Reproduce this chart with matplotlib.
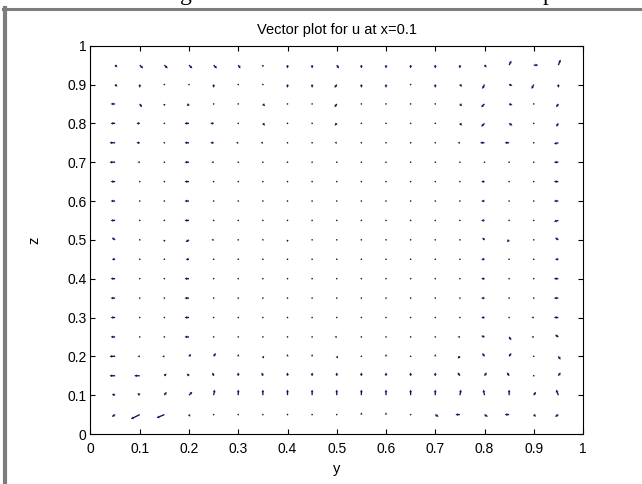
import matplotlib
matplotlib.use("Agg")
import matplotlib.pyplot as plt
from matplotlib.lines import Line2D
import numpy as np

# Grid positions (y across, z from top row to bottom row)
y_vals = [0.05, 0.10, 0.15, 0.20, 0.25, 0.30, 0.35, 0.40, 0.45, 0.50,
          0.55, 0.60, 0.65, 0.70, 0.75, 0.80, 0.85, 0.90, 0.95]
z_vals = [0.95, 0.90, 0.85, 0.80, 0.75, 0.70, 0.65, 0.60, 0.55, 0.50,
          0.45, 0.40, 0.35, 0.30, 0.25, 0.20, 0.15, 0.10, 0.05]

# Horizontal component of each arrow (roughly in pixels), one row per z
u_rows = [
    [2, 3, 3, 3, 3, 2, 0, 0, 0, 2, 0, 0, 0, 0, 0, 2, 2, 4, 2],
    [2, 0, 0, 0, 0, 0, 0, 0, 0, -2, 0, 0, 0, 0, 2, -2, 3, -2, 0],
    [-4, 2, 0, -2, 0, 0, 2, 0, 0, -2, 0, 0, 0, 0, 2, -3, 3, 0, -2],
    [-4, -3, 0, -4, -3, 0, 2, 0, 0, -2, 0, 0, 0, 0, 2, -3, 3, 0, -2],
    [-5, -3, 0, -4, -3, -2, -2, 0, 0, -2, 0, 0, 0, 0, -2, -4, -4, 0, -4],
    [-5, -2, 0, -4, -2, 0, 0, 0, 0, 0, 0, 0, 0, 0, 0, 0, 0, 0, -4],
    [-4, 0, 0, -4, 0, 0, 0, 0, 0, 0, 0, 0, 0, 0, 0, -3, 0, 0, -4],
    [-4, 0, 0, -4, 0, 0, 0, 0, 0, 0, 0, 0, 0, 0, 0, -3, 0, 0, -4],
    [-4, 0, 0, -4, 0, 0, 0, 0, 0, 0, 0, 0, 0, 0, 0, -3, 0, 0, -4],
    [-3, 0, 0, -3, -2, 0, 0, 0, 0, 0, 0, 0, 0, 0, 0, -2, -2, 0, -3],
    [-3, 0, 0, -3, 0, 0, 0, 0, 0, 0, 0, 0, 0, 0, 0, -3, 0, 0, -3],
    [-4, 0, 0, -4, 0, 0, 0, 0, 0, 0, 0, 0, 0, 0, 0, -3, 0, 0, -4],
    [-4, 0, 0, -4, 0, 0, 0, 0, 0, 0, 0, 0, 0, 0, 0, -3, 0, 0, -4],
    [-4, 0, 0, -4, 0, 0, 0, 0, 0, 0, 0, 0, 0, 0, 0, -3, 0, -2, -4],
    [-4, 0, 0, -4, 0, 0, 0, 0, 0, -2, 0, 0, 0, 0, -2, -3, 2, -2, -3],
    [-5, -2, -2, 2, 2, 0, 1, 0, 0, 1, 0, 0, 0, 0, -2, -2, 2, 0, 2],
    [-5, -5, 2, -2, -1, 0, -1, 0, 0, 0, 0, 0, 0, 0, -2, 2, -2, 0, 2],
    [-3, -2, 2, 3, 1, 0, 0, 0, 0, 0, 0, 0, 0, 0, 1, -1, 0, 2, -2],
    [-3, -8, -7, 1, 0, 0, 0, 0, 0, 0, 0, 0, 0, 3, -4, 3, -4, 2, -3],
]

# Vertical component of each arrow, same layout as u_rows
v_rows = [
    [-2, -3, -3, -3, -3, -3, -2, -3, -3, -3, -3, -3, -3, -3, -3, -2, 4, 0, 5],
    [-2, -3, 0, 0, -3, 0, 0, -3, -3, -3, -3, -3, 0, -3, -2, -4, -1, -4, -3],
    [0, -3, -2, -2, 0, 0, -2, 0, 0, -3, 0, 0, 0, 0, -2, -3, -1, 0, -3],
    [0, 0, 0, 0, 0, 0, -2, 0, 0, -2, 0, 0, 0, 0, -2, -3, -2, 0, -3],
    [0, 0, 0, 0, 0, 0, 0, 0, 0, 0, 0, 0, 0, 0, 0, 0, 0, 0, -1],
    [0, 0, 0, 0, 0, 0, 0, 0, 0, 0, 0, 0, 0, 0, 0, 0, 0, 0, 0],
    [0, 0, 0, 0, 0, 0, 0, 0, 0, 0, 0, 0, 0, 0, 0, 0, 0, 0, 0],
    [0, 0, 0, 0, 0, 0, 0, 0, 0, 0, 0, 0, 0, 0, 0, 0, 0, 0, 0],
    [0, 0, 0, 0, 0, 0, 0, 0, 0, 0, 0, 0, 0, 0, 0, 0, 0, 0, -1],
    [2, 0, -2, -2, 0, 0, 0, -2, 0, 0, 0, 0, 0, 0, 0, 2, -2, 0, 2],
    [0, 0, 0, 0, 0, 0, 0, 0, 0, 0, 0, 0, 0, 0, 0, 0, 0, 0, 0],
    [0, 0, 0, 0, 0, 0, 0, 0, 0, 0, 0, 0, 0, 0, 0, 0, 0, 0, 0],
    [0, 0, 0, 0, 0, 0, 0, 0, 0, 0, 0, 0, 0, 0, 0, 0, 0, 0, 0],
    [0, 0, 0, 0, 0, 0, 0, 0, 0, 0, 0, 0, 0, 0, 0, 0, 0, 0, 0],
    [0, 0, 0, 0, 0, 0, 0, 0, 0, 0, 0, 0, 0, 0, 0, 1, -3, 0, 2],
    [0, 0, 0, 2, 3, 2, -2, 2, 2, -2, 0, 2, 0, 2, -2, 3, 3, 0, -3],
    [0, 0, 2, 2, 3, 3, 3, 3, 3, 3, 3, 3, 3, 3, 3, 3, 3, 0, 3],
    [1, 2, 3, 3, 5, 5, 5, 5, 5, 5, 5, 5, 5, 5, 5, 5, 5, 3, 5],
    [-2, -4, -3, -2, 0, 0, 0, 0, 0, 0, 2, 2, 0, -2, 0, -2, 0, -2, -2],
]

tick_vals = [0, 0.1, 0.2, 0.3, 0.4, 0.5, 0.6, 0.7, 0.8, 0.9, 1]
tick_labels = ["0", "0.1", "0.2", "0.3", "0.4", "0.5", "0.6", "0.7", "0.8", "0.9", "1"]

W, H = 642, 484
DPI = 100

plt.rcParams["font.family"] = ["Liberation Sans", "DejaVu Sans"]


def draw_page_frame(fig):
    """
    Grey page border and the cut-off text line above the figure.
    """
    frame_color = "#7d7d7d"
    fig.add_artist(Line2D([3 / W, 1], [1 - 9 / H, 1 - 9 / H],
                          transform=fig.transFigure, color=frame_color, lw=2.2))
    fig.add_artist(Line2D([5 / W, 5 / W], [0, 1 - 8 / H],
                          transform=fig.transFigure, color=frame_color, lw=3.0))
    # descenders of the document text line that the screenshot cropped
    fig.text(180 / W, 1.0, "g", family="Liberation Serif", fontsize=17,
             va="baseline", ha="left", color="black")
    fig.text(543 / W, 1.0, "p", family="Liberation Serif", fontsize=17,
             va="baseline", ha="left", color="black")


def vector_plot(ax):
    Y, Z = np.meshgrid(y_vals, z_vals)
    U = np.array(u_rows, dtype=float)
    V = np.array(v_rows, dtype=float)

    ax.quiver(Y, Z, U, V, angles="uv", scale_units="dots", scale=0.9,
              units="dots", width=1.35, headwidth=2.2, headlength=2.0,
              headaxislength=1.8, minlength=1.3, minshaft=1,
              color="#15155c", zorder=3)

    ax.set_xlim(0, 1)
    ax.set_ylim(0, 1)
    ax.set_xticks(tick_vals)
    ax.set_xticklabels(tick_labels)
    ax.set_yticks(tick_vals)
    ax.set_yticklabels(tick_labels)

    ax.tick_params(direction="in", length=3.6, width=0.8, top=True, right=True,
                   labelsize=10, colors="black")
    ax.tick_params(axis="x", pad=5.5)
    ax.tick_params(axis="y", pad=2.8)
    for spine in ax.spines.values():
        spine.set_linewidth(0.8)
        spine.set_color("black")

    ax.set_title("Vector plot for u at x=0.1", fontsize=10.5, pad=8.4)
    ax.set_xlabel("y", fontsize=10.5)
    ax.set_ylabel("z", fontsize=10.5)
    ax.xaxis.set_label_coords(0.5, -0.072)
    ax.yaxis.set_label_coords(-0.1, 0.5)


fig = plt.figure(figsize=(W / DPI, H / DPI), dpi=DPI, facecolor="white")
ax = fig.add_axes([90.5 / W, 1 - 434 / H, 492.5 / W, 388.3 / H])
vector_plot(ax)
draw_page_frame(fig)

fig.savefig("out.png", dpi=DPI, facecolor="white")
